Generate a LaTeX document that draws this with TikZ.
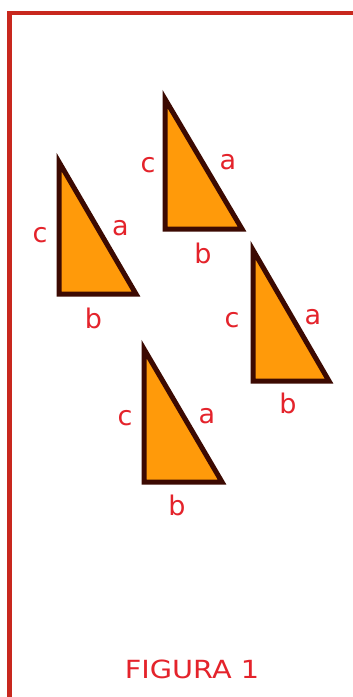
\documentclass[tikz,border=0pt]{standalone}
\usepackage{fontspec}
\setmainfont{DejaVu Sans}
\definecolor{framered}{HTML}{C8281E}
\definecolor{labred}{HTML}{E4232B}
\definecolor{triorange}{HTML}{FF9A0A}
\definecolor{tribrown}{HTML}{3C0A02}
\begin{document}
\begin{tikzpicture}[x=1pt,y=-1pt,
  frame/.style={draw=framered,line width=4.5pt},
  tri/.style={draw=tribrown,fill=triorange,line width=5pt,line join=miter},
  lab/.style={text=labred,font=\fontsize{27}{27}\selectfont,inner sep=0pt,anchor=center},
  caption/.style={text=labred,font=\fontsize{25}{25}\selectfont,inner sep=0pt,anchor=center,xscale=1.15}]
\useasboundingbox (0,0) rectangle (353,697);
\fill[white] (0,0) rectangle (353,697);
\draw[frame] (9.5,700) -- (9.5,13) -- (356,13);
% triangle 1
\draw[tri] (59,162) -- (59,294) -- (136,294) -- cycle;
\node[lab] (c1) at (40,235) {c};
\node[lab] (a1) at (120.5,228) {a};
\node[lab] (b1) at (93.5,318) {b};
% triangle 2
\draw[tri] (165,99) -- (165,229) -- (242,229) -- cycle;
\node[lab] (c2) at (148,165) {c};
\node[lab] (a2) at (228,162) {a};
\node[lab] (b2) at (203,253) {b};
% triangle 3
\draw[tri] (253,250) -- (253,381) -- (329,381) -- cycle;
\node[lab] (c3) at (232,320) {c};
\node[lab] (a3) at (313,317) {a};
\node[lab] (b3) at (288,403) {b};
% triangle 4
\draw[tri] (144,349) -- (144,482) -- (222,482) -- cycle;
\node[lab] (c4) at (125,418) {c};
\node[lab] (a4) at (207,416) {a};
\node[lab] (b4) at (177,505) {b};
\node[caption] (fig) at (192,669) {FIGURA 1};
\end{tikzpicture}
\end{document}
